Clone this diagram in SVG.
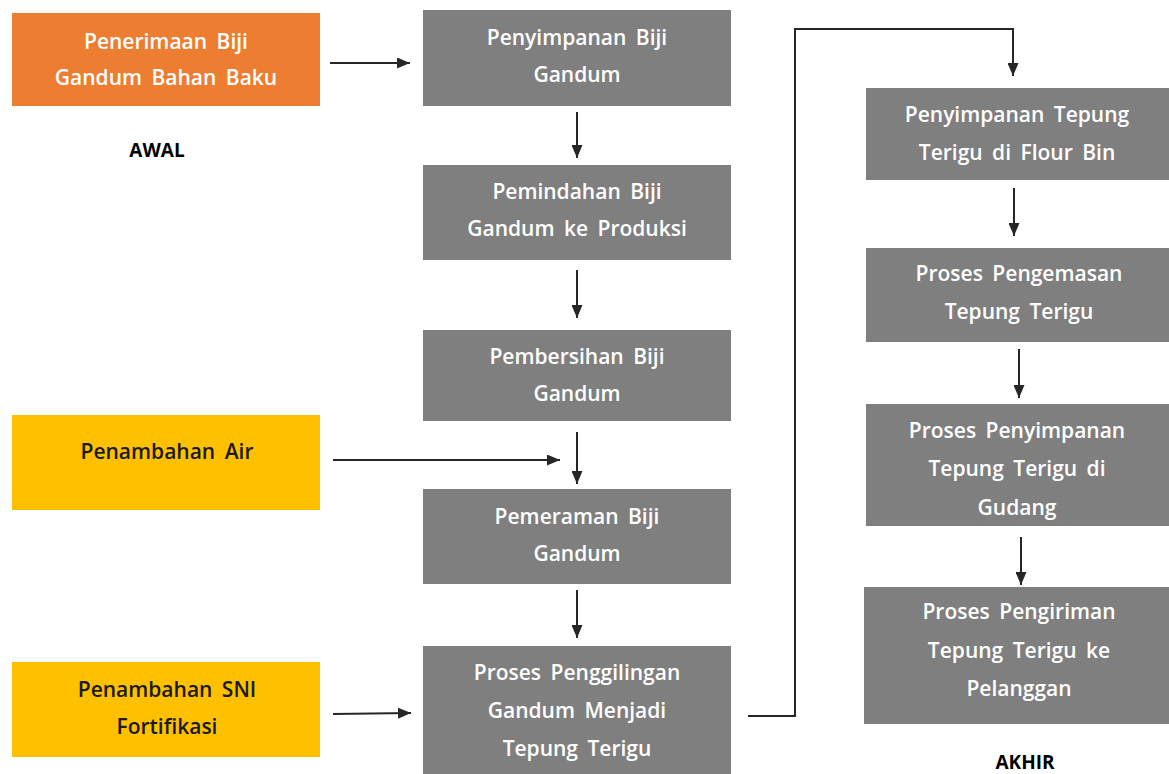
<svg xmlns="http://www.w3.org/2000/svg" width="1169" height="774" viewBox="0 0 1169 774">
<style>
.box{fill:#7f7f7f}
.org{fill:#ed7d31}
.yel{fill:#ffc000}
text{font-family:"Open Sans","Noto Sans","Liberation Sans",sans-serif;font-size:21px;font-weight:600;text-anchor:middle;word-spacing:4px}
.w{fill:#ffffff}
.k{fill:#1a1a1a}
.lbl{font-size:19px;font-weight:700;fill:#000;word-spacing:0}
.c{fill:none;stroke:#262626;stroke-width:2}
</style>
<defs>
<marker id="ah" viewBox="0 0 13 11" refX="13" refY="5.5" markerWidth="13" markerHeight="11" markerUnits="userSpaceOnUse" orient="auto">
<path d="M0,0 L13,5.5 L0,11 z" fill="#262626"/>
</marker>
</defs>
<rect width="1169" height="774" fill="#ffffff"/>

<g id="n-penerimaan">
<rect class="org" x="12" y="13" width="308" height="93"/>
<text class="w" x="166" y="49">Penerimaan Biji</text>
<text class="w" x="166" y="85">Gandum  Bahan Baku</text>
</g>
<g id="lbl-awal"><text class="lbl" x="157" y="157">AWAL</text></g>

<g id="n-penyimpanan-biji">
<rect class="box" x="423" y="10" width="308" height="96"/>
<text class="w" x="577" y="45">Penyimpanan  Biji</text>
<text class="w" x="577" y="82">Gandum</text>
</g>
<g id="n-pemindahan">
<rect class="box" x="423" y="165" width="308" height="95"/>
<text class="w" x="577" y="199">Pemindahan  Biji</text>
<text class="w" x="577" y="236">Gandum  ke Produksi</text>
</g>
<g id="n-pembersihan">
<rect class="box" x="423" y="330" width="308" height="91"/>
<text class="w" x="577" y="364">Pembersihan  Biji</text>
<text class="w" x="577" y="401">Gandum</text>
</g>
<g id="n-air">
<rect class="yel" x="12" y="415" width="308" height="95"/>
<text class="k" x="167" y="459">Penambahan  Air</text>
</g>
<g id="n-pemeraman">
<rect class="box" x="423" y="489" width="308" height="95"/>
<text class="w" x="577" y="524">Pemeraman  Biji</text>
<text class="w" x="577" y="561">Gandum</text>
</g>
<g id="n-sni">
<rect class="yel" x="12" y="662" width="308" height="95"/>
<text class="k" x="167" y="697">Penambahan  SNI</text>
<text class="k" x="167" y="734">Fortifikasi</text>
</g>
<g id="n-penggilingan">
<rect class="box" x="423" y="646" width="308" height="128"/>
<text class="w" x="577" y="680">Proses  Penggilingan</text>
<text class="w" x="577" y="718">Gandum  Menjadi</text>
<text class="w" x="577" y="756">Tepung  Terigu</text>
</g>

<g id="n-flourbin">
<rect class="box" x="866" y="88" width="303" height="92"/>
<text class="w" x="1017" y="122">Penyimpanan  Tepung</text>
<text class="w" x="1017" y="160">Terigu di  Flour Bin</text>
</g>
<g id="n-pengemasan">
<rect class="box" x="866" y="248" width="303" height="94"/>
<text class="w" x="1019" y="281">Proses  Pengemasan</text>
<text class="w" x="1019" y="319">Tepung  Terigu</text>
</g>
<g id="n-gudang">
<rect class="box" x="866" y="404" width="303" height="122"/>
<text class="w" x="1017" y="438">Proses  Penyimpanan</text>
<text class="w" x="1017" y="476">Tepung  Terigu  di</text>
<text class="w" x="1017" y="515">Gudang</text>
</g>
<g id="n-pengiriman">
<rect class="box" x="864" y="587" width="305" height="137"/>
<text class="w" x="1019" y="619">Proses  Pengiriman</text>
<text class="w" x="1019" y="658">Tepung  Terigu ke</text>
<text class="w" x="1019" y="696">Pelanggan</text>
</g>
<g id="lbl-akhir"><text class="lbl" x="1025" y="769">AKHIR</text></g>

<g id="connectors">
<line class="c" x1="330" y1="63" x2="410" y2="63" marker-end="url(#ah)"/>
<line class="c" x1="577" y1="112" x2="577" y2="158" marker-end="url(#ah)"/>
<line class="c" x1="577" y1="270" x2="577" y2="318" marker-end="url(#ah)"/>
<line class="c" x1="577" y1="432" x2="577" y2="484" marker-end="url(#ah)"/>
<line class="c" x1="333" y1="460" x2="560" y2="460" marker-end="url(#ah)"/>
<line class="c" x1="577" y1="590" x2="577" y2="638" marker-end="url(#ah)"/>
<line class="c" x1="333" y1="714" x2="411" y2="713" marker-end="url(#ah)"/>
<polyline class="c" points="748,716 795,716 795,29 1013,29 1013,76" marker-end="url(#ah)"/>
<line class="c" x1="1014" y1="188" x2="1014" y2="236" marker-end="url(#ah)"/>
<line class="c" x1="1019" y1="349" x2="1019" y2="398" marker-end="url(#ah)"/>
<line class="c" x1="1021" y1="537" x2="1021" y2="585" marker-end="url(#ah)"/>
</g>
</svg>
